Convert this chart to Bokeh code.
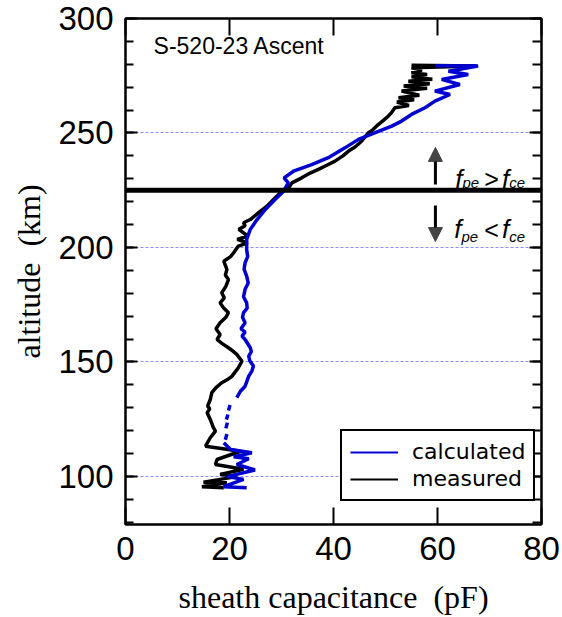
from bokeh.plotting import figure
from bokeh.models import (Range1d, LinearAxis, SingleIntervalTicker, FixedTicker, Span,
                          Arrow, NormalHead, Label, Legend, LegendItem, CustomLabelingPolicy)
from bokeh.embed import file_html
from bokeh.resources import INLINE

nan = float("nan")

# measured sheath capacitance (pF) vs altitude (km)
measured_cap = [18.9, 14.7, 19.5, 15.0, 21.4, 18.2, 22.7, 17.3, 17.6, 22.1, 15.4, 16.3, 17.3, 16.9,
                16.3, 15.7, 16.2, 15.8, 16.3, 16.6, 17.4, 18.5, 19.6, 20.5, 21.7, 22.4, 21.4, 20.6,
                19.8, 18.6, 17.6, 18.2, 17.4, 18.2, 19.3, 19.8, 18.8, 18.2, 19.0, 18.5, 19.3, 19.8,
                19.2, 19.5, 18.9, 20.2, 20.8, 21.7, 23.5, 21.5, 23.5, 21.8, 23.0, 22.7, 24.0, 25.6,
                27.2, 28.8, 30.1, 31.4, 32.0, 33.9, 35.5, 37.1, 38.8, 40.3, 41.8, 42.9, 44.2, 45.4,
                46.7, 47.6, 48.6, 49.6, 50.5, 51.2, 51.8, 54.5, 52.2, 55.5, 52.5, 56.5, 53.1, 58.0,
                53.5, 58.5, 54.4, 59.0, 55.0, 58.0, 55.0, 57.0, 55.0, 67.5, 55.0]
measured_alt = [95.1, 95.5, 97.2, 97.5, 99.9, 100.9, 103.1, 105.2, 107.4, 111.0, 113.2, 116.9, 119.8, 121.3,
                124.9, 127.8, 129.5, 130.7, 133.6, 136.6, 138.8, 140.9, 142.3, 143.8, 147.5, 150.3, 153.3, 154.8,
                156.2, 158.0, 159.8, 162.0, 164.5, 167.1, 169.5, 171.5, 173.8, 175.8, 178.0, 180.2, 183.0, 186.0,
                188.0, 190.4, 194.0, 196.0, 197.7, 200.6, 202.0, 203.5, 205.0, 207.9, 209.5, 210.8, 212.2, 215.2,
                218.0, 221.7, 224.6, 226.1, 228.2, 230.4, 232.5, 234.1, 236.0, 237.7, 240.0, 242.1, 244.0, 246.4,
                250.0, 251.5, 253.7, 255.5, 257.3, 259.0, 261.0, 262.0, 263.5, 264.5, 265.4, 266.5, 268.3, 269.5,
                270.5, 271.5, 272.6, 273.5, 274.5, 275.5, 276.3, 277.5, 278.5, 279.3, 279.6]

# calculated sheath capacitance (pF) vs altitude (km); nan marks gaps
calculated_cap = [23.3, 18.9, 22.7, 19.5, 24.9, 21.4, 23.7, 20.8, 24.3, 20.2, 18.9, nan,
                  19.2, 19.5, nan, 19.3, 19.6, nan, 19.4, 19.7, nan, 19.8, 20.1, nan,
                  21.4, 22.1, 23.0, 23.7, 24.3, 24.6, 23.9, 23.7, 24.2, 24.0, 23.0, 22.4,
                  23.0, 22.2, 23.0, 22.5, 22.7, 23.4, 23.3, 22.7, 23.0, 23.6, 23.3, 22.8,
                  23.0, 23.5, 23.3, 23.3, 24.0, 25.3, 26.9, 28.8, 30.4, 31.3, 30.5, 32.3,
                  35.8, 39.0, 42.2, 44.8, 47.9, 51.2, 53.1, 55.0, 57.6, 59.5, 62.4, 59.5,
                  64.3, 60.8, 65.9, 62.1, 67.8, 59.6]
calculated_alt = [95.1, 95.5, 98.7, 99.9, 102.8, 105.2, 107.7, 108.6, 110.3, 111.8, 114.7, nan,
                  116.0, 118.5, nan, 121.0, 123.5, nan, 124.8, 127.0, nan, 128.8, 131.2, nan,
                  134.4, 137.2, 139.4, 143.8, 146.0, 148.2, 150.5, 152.5, 154.5, 156.2, 159.8, 161.3,
                  163.0, 164.5, 167.1, 169.5, 171.5, 173.5, 175.8, 178.5, 181.7, 184.5, 187.5, 190.5,
                  193.3, 196.0, 199.1, 203.5, 207.9, 212.2, 216.6, 221.0, 224.6, 228.2, 230.4, 233.3,
                  236.2, 239.2, 243.5, 247.2, 250.0, 253.0, 255.2, 258.1, 261.0, 263.9, 266.8, 268.3,
                  271.2, 273.4, 275.5, 277.0, 279.2, 279.4]

grid_alts = [100, 150, 200, 250]
boundary_alt = 225

BLUE = "#0000d0"

p = figure(width=562, height=617, x_range=Range1d(0, 80), y_range=Range1d(79, 300),
           output_backend="svg", toolbar_location=None,
           min_border_left=125, min_border_right=17, min_border_top=18, min_border_bottom=93)
p.background_fill_color = "white"
p.border_fill_color = "white"
p.outline_line_color = "black"
p.outline_line_width = 2

p.xaxis[0].ticker = SingleIntervalTicker(interval=20, num_minor_ticks=0)
p.yaxis[0].ticker = SingleIntervalTicker(interval=50, num_minor_ticks=5)

def style_axis(ax, tick_in, minor_in):
    ax.axis_line_color = "black"
    ax.axis_line_width = 2
    ax.major_tick_line_color = "black"
    ax.major_tick_line_width = 2
    ax.major_tick_in = tick_in
    ax.major_tick_out = 0
    ax.minor_tick_line_color = "black"
    ax.minor_tick_line_width = 2
    ax.minor_tick_in = minor_in
    ax.minor_tick_out = 0

style_axis(p.xaxis[0], 17, 0)
style_axis(p.yaxis[0], 12, 8)
for ax in (p.xaxis[0], p.yaxis[0]):
    ax.major_label_text_font = "Liberation Sans"
    ax.major_label_text_font_size = "33px"
    ax.major_label_text_color = "black"
    ax.major_label_standoff = 12
    ax.axis_label_text_font = "Liberation Serif"
    ax.axis_label_text_font_style = "normal"
    ax.axis_label_text_font_size = "32px"
    ax.axis_label_text_color = "black"
p.xaxis[0].axis_label = "sheath capacitance \u00a0(pF)"
p.xaxis[0].axis_label_standoff = 16
p.yaxis[0].axis_label = "altitude \u00a0(km)"
p.yaxis[0].axis_label_standoff = 8

hide_all = "for (const i of indices) { indices.unset(i) }\nreturn indices"

top = LinearAxis(ticker=SingleIntervalTicker(interval=20, num_minor_ticks=0),
                 major_label_policy=CustomLabelingPolicy(code=hide_all), major_label_standoff=0)
style_axis(top, 17, 0)
p.add_layout(top, "above")
right = LinearAxis(ticker=SingleIntervalTicker(interval=50, num_minor_ticks=5),
                   major_label_policy=CustomLabelingPolicy(code=hide_all), major_label_standoff=0)
style_axis(right, 12, 9)
p.add_layout(right, "right")

p.xgrid.visible = False
p.ygrid.ticker = FixedTicker(ticks=grid_alts)
p.ygrid.grid_line_color = "#8c8cff"
p.ygrid.grid_line_dash = "3 2"
p.ygrid.grid_line_width = 1

p.add_layout(Span(location=boundary_alt, dimension="width", line_color="black", line_width=5))

black_r = p.line(measured_cap, measured_alt, line_color="black", line_width=3.5)
blue_r = p.line(calculated_cap, calculated_alt, line_color=BLUE, line_width=3.5)

leg_blue = p.line([nan], [nan], line_color=BLUE, line_width=2)
leg_black = p.line([nan], [nan], line_color="black", line_width=2)

legend = Legend(items=[LegendItem(label="calculated", renderers=[leg_blue]),
                       LegendItem(label="measured", renderers=[leg_black])],
                location=(215, 23))
legend.label_text_font = "DejaVu Sans"
legend.label_text_font_size = "22px"
legend.label_text_color = "black"
legend.glyph_width = 48
legend.glyph_height = 22
legend.label_standoff = 14
legend.padding = 8
legend.spacing = 2
legend.margin = 0
legend.border_line_color = "black"
legend.border_line_alpha = 1.0
legend.border_line_width = 2
legend.background_fill_alpha = 1.0
p.add_layout(legend)

# annotations
p.add_layout(Label(x=5.4, y=282.1, text="S-520-23 Ascent", text_font="Liberation Sans",
                   text_font_size="23px", text_color="black"))

head_up = NormalHead(size=14, fill_color="#444444", line_color="#444444", line_width=1)
p.add_layout(Arrow(end=head_up, x_start=59.6, y_start=227.5, x_end=59.6, y_end=243.7,
                   line_width=3, line_color="black"))
head_dn = NormalHead(size=14, fill_color="#444444", line_color="#444444", line_width=1)
p.add_layout(Arrow(end=head_dn, x_start=59.6, y_start=218.3, x_end=59.6, y_end=202.6,
                   line_width=3, line_color="black"))

def add_txt(x, y, t, size, style="italic"):
    p.add_layout(Label(x=x, y=y, text=t, text_font="Liberation Sans", text_font_size=size,
                       text_font_style=style, text_color="black", text_baseline="alphabetic"))

# f_pe > f_ce
add_txt(63.4, 230.1, "f", "26px")
add_txt(64.8, 228.2, "pe", "15px")
add_txt(69.0, 229.9, ">", "25px", "normal")
add_txt(72.4, 230.1, "f", "26px")
add_txt(73.8, 228.2, "ce", "15px")
# f_pe < f_ce
add_txt(63.2, 207.9, "f", "26px")
add_txt(64.6, 205.0, "pe", "15px")
add_txt(69.0, 207.7, "<", "25px", "normal")
add_txt(72.4, 207.9, "f", "26px")
add_txt(73.8, 205.0, "ce", "15px")

open("out.html", "w").write(file_html(p, INLINE))
